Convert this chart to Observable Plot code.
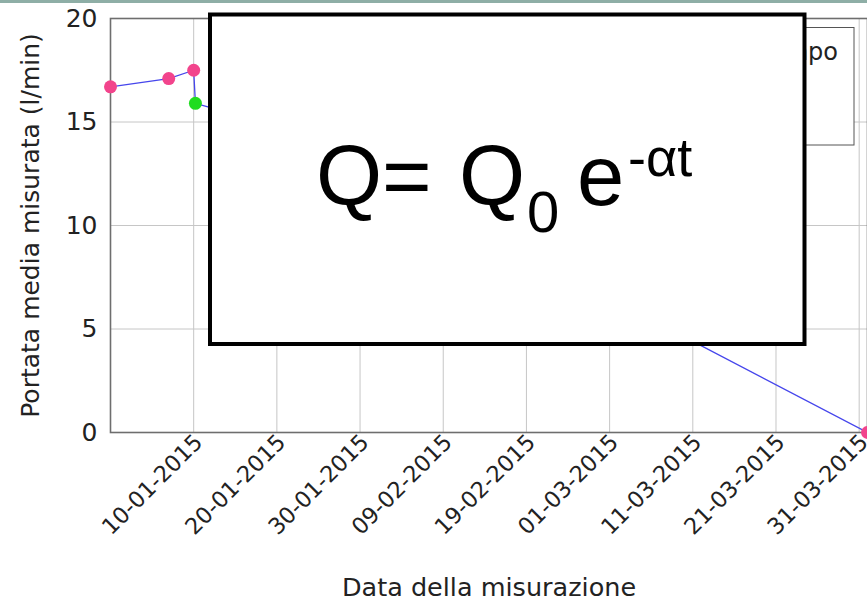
<!DOCTYPE html>
<html>
<head>
<meta charset="utf-8">
<script src="https://cdn.jsdelivr.net/npm/d3@7"></script>
<script src="https://cdn.jsdelivr.net/npm/@observablehq/plot@0.6"></script>
<style>
  html, body { margin: 0; padding: 0; background: #fff; }
  #wrap { position: relative; width: 867px; height: 606px; overflow: hidden; background: #fff; }
  #overlay { position: absolute; left: 0; top: 0; pointer-events: none; }
</style>
</head>
<body>
<div id="wrap"></div>
<script>
// ---- data ----
const dates  = ["2014-12-31", "2015-01-07", "2015-01-10", "2015-01-10T05:00Z", "2015-01-20", "2015-01-30", "2015-02-09", "2015-02-19", "2015-03-01", "2015-04-01"];
const values = [16.7, 17.1, 17.5, 15.9, 14.8, 13.0, 11.2, 9.0, 6.5, 0];
const series = ["Prima", "Prima", "Prima", "Dopo", "Dopo", "Dopo", "Dopo", "Dopo", "Dopo", "Prima"];
const seriesNames  = ["Prima", "Dopo"];
const seriesColors = ["#f2448c", "#1fdc1f"];
const xTickLabels = ["10-01-2015", "20-01-2015", "30-01-2015", "09-02-2015", "19-02-2015", "01-03-2015", "11-03-2015", "21-03-2015", "31-03-2015"];
const yTicks = [0, 5, 10, 15, 20];
const xTitle = "Data della misurazione";
const yTitle = "Portata media misurata (l/min)";
const legendText = "Andamento nel tempo";
const formula = { q: "Q=", q0: "Q", sub: "0", e: "e", sup: "-αt" };

// ---- build ----
const parseTick = d3.utcParse("%d-%m-%Y");
const fmt = d3.utcFormat("%d-%m-%Y");
const tickDates = xTickLabels.map(parseTick);
const rows = dates.map((d, i) => ({ date: new Date(d.length === 10 ? d + "T00:00Z" : d), value: values[i], series: series[i] }));

const font = "'DejaVu Sans', sans-serif";

const chart = Plot.plot({
  width: 867,
  height: 606,
  marginLeft: 110,
  marginRight: 0,
  marginTop: 18,
  marginBottom: 174,
  style: { fontFamily: font, fontSize: "23px", color: "#222", background: "white", overflow: "visible" },
  x: { type: "utc", domain: d3.extent(rows, d => d.date) },
  y: { domain: [0, 20] },
  color: { domain: seriesNames, range: seriesColors },
  marks: [
    Plot.gridX(tickDates, { stroke: "#c6c6c6", strokeOpacity: 1 }),
    Plot.gridY(yTicks.filter(v => v > 0 && v < 20), { stroke: "#c6c6c6", strokeOpacity: 1 }),
    Plot.frame({ stroke: "#6e6e6e", strokeWidth: 1.6 }),
    Plot.axisX(tickDates, { tickFormat: fmt, tickRotate: -45, tickSize: 0, tickPadding: 8, dx: 5, dy: -2, label: null, fontSize: 22.5 }),
    Plot.axisY(yTicks, { tickSize: 0, tickPadding: 13, label: null, fontSize: 25 }),
    Plot.line(rows, { x: "date", y: "value", stroke: "#4646ec", strokeWidth: 1.3 }),
    Plot.dot(rows, { x: "date", y: "value", fill: "series", r: 6.5 }),
    Plot.text([xTitle], { text: d => d, frameAnchor: "bottom", dy: 163, fontSize: 25.5, fill: "#222" }),
    Plot.text([yTitle], { text: d => d, frameAnchor: "left", textAnchor: "middle", dx: -80, rotate: -90, fontSize: 25, fill: "#222" })
  ]
});
document.getElementById("wrap").appendChild(chart);

// ---- overlay: partially hidden legend box, and formula box ----
const ov = d3.select("#wrap").append("svg")
  .attr("id", "overlay").attr("width", 867).attr("height", 606);

ov.append("rect").attr("x", 0).attr("y", 0).attr("width", 867).attr("height", 3).attr("fill", "#8eaea6");

ov.append("rect").attr("x", 805.5).attr("y", 27.5).attr("width", 48.5).attr("height", 117.5)
  .attr("fill", "white").attr("stroke", "#555").attr("stroke-width", 1);
ov.append("text").attr("x", 838).attr("y", 60).attr("text-anchor", "end")
  .attr("font-family", font).attr("font-size", 24).attr("fill", "#222").text(legendText);

ov.append("rect").attr("x", 210).attr("y", 14.5).attr("width", 594.5).attr("height", 329.5)
  .attr("fill", "white").attr("stroke", "black").attr("stroke-width", 4);

const ff = "'Liberation Sans', Arial, sans-serif";
ov.append("text").attr("x", 316).attr("y", 205).attr("font-family", ff).attr("font-size", 85).attr("fill", "black").text(formula.q);
ov.append("text").attr("x", 459).attr("y", 205).attr("font-family", ff).attr("font-size", 85).attr("fill", "black").text(formula.q0);
ov.append("text").attr("x", 527).attr("y", 232).attr("font-family", ff).attr("font-size", 58).attr("fill", "black").text(formula.sub);
ov.append("text").attr("x", 577).attr("y", 205).attr("font-family", ff).attr("font-size", 85).attr("fill", "black").text(formula.e);
ov.append("text").attr("x", 628).attr("y", 176).attr("font-family", ff).attr("font-size", 54).attr("fill", "black").text(formula.sup);
</script>
</body>
</html>
